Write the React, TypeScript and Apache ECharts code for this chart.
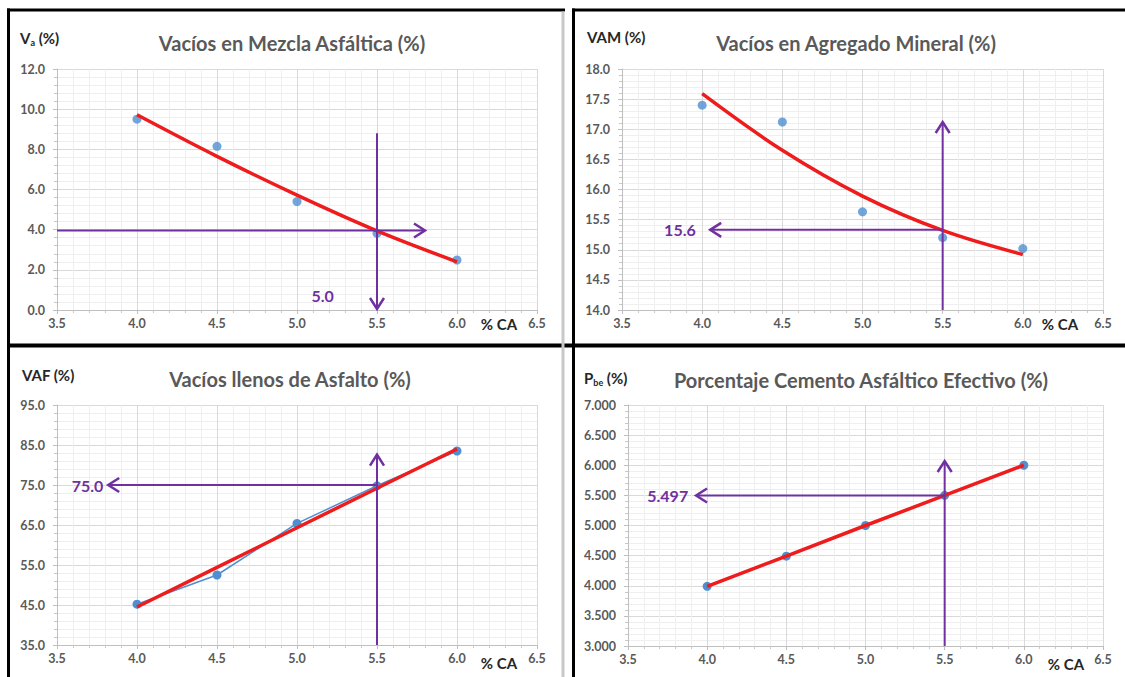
import React, { useEffect, useRef } from "react";
import * as echarts from "echarts";

// ---- data ----
const asphaltContent = [4.0, 4.5, 5.0, 5.5, 6.0];

const vaPoints = [9.5, 8.15, 5.4, 3.82, 2.49];
const vaTrend = [9.72, 7.65, 5.72, 3.94, 2.4];

const vamPoints = [17.4, 17.12, 15.63, 15.2, 15.02];
const vamTrend = [17.59, 16.65, 15.89, 15.32, 14.92];

const vafPoints = [45.2, 52.5, 65.4, 74.8, 83.5];
const vafTrend = [44.5, 54.4, 64.3, 74.2, 84.0];

const pbePoints = [3.99, 4.49, 5.0, 5.5, 6.0];
const pbeTrend = [3.99, 4.49, 5.0, 5.5, 6.0];

// arrows: [xFrom, yFrom, xTip, yTip]
const vaArrows = [
  [3.5, 3.96, 5.8, 3.96],
  [5.5, 8.8, 5.5, 0.05],
];
const vamArrows = [
  [5.5, 15.33, 4.05, 15.33],
  [5.5, 14.0, 5.5, 17.12],
];
const vafArrows = [
  [5.5, 75.0, 3.82, 75.0],
  [5.5, 35.0, 5.5, 82.6],
];
const pbeArrows = [
  [5.5, 5.497, 3.93, 5.497],
  [5.5, 3.0, 5.5, 6.07],
];

// notes: [x, y, text]
const vaNotes = [[5.16, 0.7, "5.0"]];
const vamNotes = [[3.96, 15.33, "15.6"]];
const vafNotes = [[3.79, 75.0, "75.0"]];
const pbeNotes = [[3.88, 5.497, "5.497"]];

const titles = [
  "Vacíos en Mezcla Asfáltica (%)",
  "Vacíos en Agregado Mineral (%)",
  "Vacíos llenos de Asfalto (%)",
  "Porcentaje Cemento Asfáltico Efectivo (%)",
];

const X_MIN = 3.5;
const X_MAX = 6.5;
const X_STEP = 0.5;

const FONT = "Lato";
const PURPLE = "#7030A0";
const RED = "#EE1C1C";
const BLUE = "#4F8FD0";
const LABEL_GRAY = "#595959";

type Panel = {
  grid: { left: number; top: number; width: number; height: number };
  yMin: number;
  yMax: number;
  yStep: number;
  dec: number;
  points: number[];
  trend: number[];
  smooth: boolean;
  connect: boolean;
  arrows: number[][];
  notes: (number | string)[][];
  noteAlign: "center" | "right";
  title: string;
  titleX: number;
  titleY: number;
  yName: string;
  yNameX: number;
  yNameY: number;
  caX: number;
  caY: number;
};

const panels: Panel[] = [
  {
    grid: { left: 57, top: 69, width: 480, height: 241 },
    yMin: 0, yMax: 12, yStep: 2, dec: 1,
    points: vaPoints, trend: vaTrend, smooth: true, connect: false,
    arrows: vaArrows, notes: vaNotes, noteAlign: "center",
    title: titles[0], titleX: 292, titleY: 43,
    yName: "{m|V}{s|a}{m| (%)}", yNameX: 20, yNameY: 38,
    caX: 499, caY: 324,
  },
  {
    grid: { left: 622, top: 69, width: 481, height: 241 },
    yMin: 14, yMax: 18, yStep: 0.5, dec: 1,
    points: vamPoints, trend: vamTrend, smooth: true, connect: false,
    arrows: vamArrows, notes: vamNotes, noteAlign: "right",
    title: titles[1], titleX: 856, titleY: 43,
    yName: "{m|VAM (%)}", yNameX: 587, yNameY: 37,
    caX: 1060, caY: 324,
  },
  {
    grid: { left: 57, top: 405, width: 480, height: 240 },
    yMin: 35, yMax: 95, yStep: 10, dec: 1,
    points: vafPoints, trend: vafTrend, smooth: false, connect: true,
    arrows: vafArrows, notes: vafNotes, noteAlign: "right",
    title: titles[2], titleX: 290, titleY: 379,
    yName: "{m|VAF (%)}", yNameX: 22, yNameY: 375,
    caX: 499, caY: 663,
  },
  {
    grid: { left: 628, top: 405, width: 475, height: 241 },
    yMin: 3, yMax: 7, yStep: 0.5, dec: 3,
    points: pbePoints, trend: pbeTrend, smooth: false, connect: true,
    arrows: pbeArrows, notes: pbeNotes, noteAlign: "right",
    title: titles[3], titleX: 861, titleY: 380,
    yName: "{m|P}{s|be}{m| (%)}", yNameX: 584, yNameY: 378,
    caX: 1066, caY: 664,
  },
];

function buildOption() {
  const grids: any[] = [];
  const xAxes: any[] = [];
  const yAxes: any[] = [];
  const series: any[] = [];
  const graphic: any[] = [];

  const axisCommon = {
    type: "value",
    axisLine: { show: true, onZero: false, lineStyle: { color: "#BFBFBF", width: 1 } },
    axisTick: { show: true, length: 4, lineStyle: { color: "#BFBFBF" } },
    minorTick: { show: true, splitNumber: 5, length: 3, lineStyle: { color: "#C8C8C8" } },
    splitLine: { show: true, lineStyle: { color: "#D9D9D9", width: 1 } },
    minorSplitLine: { show: true, lineStyle: { color: "#EFEFEF", width: 1 } },
  };

  panels.forEach((p, i) => {
    grids.push({ ...p.grid, containLabel: false });
    xAxes.push({
      ...axisCommon,
      gridIndex: i,
      min: X_MIN,
      max: X_MAX,
      interval: X_STEP,
      axisLabel: {
        formatter: (v: number) => v.toFixed(1),
        color: LABEL_GRAY,
        fontFamily: FONT,
        fontWeight: "bold",
        fontSize: 12.5,
        margin: 7,
      },
    });
    yAxes.push({
      ...axisCommon,
      gridIndex: i,
      min: p.yMin,
      max: p.yMax,
      interval: p.yStep,
      axisLabel: {
        formatter: (v: number) => v.toFixed(p.dec),
        color: LABEL_GRAY,
        fontFamily: FONT,
        fontWeight: "bold",
        fontSize: 12.5,
        margin: 12,
      },
    });

    // data points
    series.push({
      type: p.connect ? "line" : "scatter",
      xAxisIndex: i,
      yAxisIndex: i,
      data: asphaltContent.map((x, k) => [x, p.points[k]]),
      symbol: "circle",
      symbolSize: 9,
      showSymbol: true,
      itemStyle: { color: BLUE },
      lineStyle: { color: BLUE, width: 1.5 },
      z: 2,
    });

    // trend line
    series.push({
      type: "line",
      xAxisIndex: i,
      yAxisIndex: i,
      data: asphaltContent.map((x, k) => [x, p.trend[k]]),
      smooth: p.smooth ? 0.35 : false,
      showSymbol: false,
      symbol: "none",
      lineStyle: { color: RED, width: 3.5 },
      z: 3,
    });

    // arrows
    series.push({
      type: "custom",
      xAxisIndex: i,
      yAxisIndex: i,
      data: p.arrows,
      encode: { x: [0, 2], y: [1, 3] },
      z: 4,
      renderItem: (_params: any, api: any) => {
        const p0 = api.coord([api.value(0), api.value(1)]);
        const p1 = api.coord([api.value(2), api.value(3)]);
        const dx = p1[0] - p0[0];
        const dy = p1[1] - p0[1];
        const len = Math.hypot(dx, dy) || 1;
        const ux = dx / len;
        const uy = dy / len;
        const nx = -uy;
        const ny = ux;
        const L = 11;
        const W = 7;
        return {
          type: "group",
          children: [
            {
              type: "line",
              shape: { x1: p0[0], y1: p0[1], x2: p1[0], y2: p1[1] },
              style: { stroke: PURPLE, lineWidth: 2 },
            },
            {
              type: "polyline",
              shape: {
                points: [
                  [p1[0] - ux * L + nx * W, p1[1] - uy * L + ny * W],
                  [p1[0], p1[1]],
                  [p1[0] - ux * L - nx * W, p1[1] - uy * L - ny * W],
                ],
              },
              style: { stroke: PURPLE, lineWidth: 2.5, fill: null },
            },
          ],
        };
      },
    });

    // notes
    const notes = p.notes;
    series.push({
      type: "custom",
      xAxisIndex: i,
      yAxisIndex: i,
      data: notes.map((n) => [n[0], n[1]]),
      z: 5,
      renderItem: (params: any, api: any) => {
        const pt = api.coord([api.value(0), api.value(1)]);
        return {
          type: "text",
          x: pt[0],
          y: pt[1],
          style: {
            text: String(notes[params.dataIndex][2]),
            fill: PURPLE,
            font: `bold 16px ${FONT}`,
            align: p.noteAlign,
            verticalAlign: "middle",
          },
        };
      },
    });

    // title
    graphic.push({
      type: "text",
      x: p.titleX,
      y: p.titleY,
      style: {
        text: p.title,
        fill: LABEL_GRAY,
        font: `bold 20px ${FONT}`,
        align: "center",
        verticalAlign: "middle",
      },
    });
    // y name
    graphic.push({
      type: "text",
      x: p.yNameX,
      y: p.yNameY,
      style: {
        text: p.yName,
        align: "left",
        verticalAlign: "middle",
        rich: {
          m: { fontFamily: FONT, fontWeight: "bold", fontSize: 15, fill: "#262626", color: "#262626", lineHeight: 18 },
          s: { fontFamily: FONT, fontWeight: "bold", fontSize: 9, fill: "#262626", color: "#262626", lineHeight: 11, verticalAlign: "bottom" },
        },
      },
    });
    // % CA
    graphic.push({
      type: "text",
      x: p.caX,
      y: p.caY,
      style: {
        text: "% CA",
        fill: "#262626",
        font: `bold 15px ${FONT}`,
        align: "center",
        verticalAlign: "middle",
      },
    });
  });

  // panel frames
  const black = { stroke: "#000", lineWidth: 3 };
  graphic.push(
    { type: "line", shape: { x1: 7, y1: 10, x2: 565, y2: 10 }, style: black },
    { type: "line", shape: { x1: 572, y1: 10, x2: 1125, y2: 10 }, style: black },
    { type: "line", shape: { x1: 7, y1: 345.5, x2: 1125, y2: 345.5 }, style: { stroke: "#000", lineWidth: 4 } },
    { type: "line", shape: { x1: 8.5, y1: 8.5, x2: 8.5, y2: 677 }, style: black },
    { type: "line", shape: { x1: 573.5, y1: 8.5, x2: 573.5, y2: 677 }, style: black },
    { type: "line", shape: { x1: 563, y1: 11.5, x2: 563, y2: 677 }, style: { stroke: "#C8C8C8", lineWidth: 3 } }
  );

  return {
    animation: false,
    backgroundColor: "#FFFFFF",
    grid: grids,
    xAxis: xAxes,
    yAxis: yAxes,
    series,
    graphic,
  };
}

export default function App() {
  const ref = useRef<HTMLDivElement>(null);
  useEffect(() => {
    if (!ref.current) return;
    const chart = echarts.init(ref.current, null, { renderer: "svg" });
    chart.setOption(buildOption() as any);
    return () => chart.dispose();
  }, []);
  return (
    <div
      ref={ref}
      style={{ position: "fixed", left: 0, top: 0, width: 1125, height: 677, background: "#fff" }}
    />
  );
}
